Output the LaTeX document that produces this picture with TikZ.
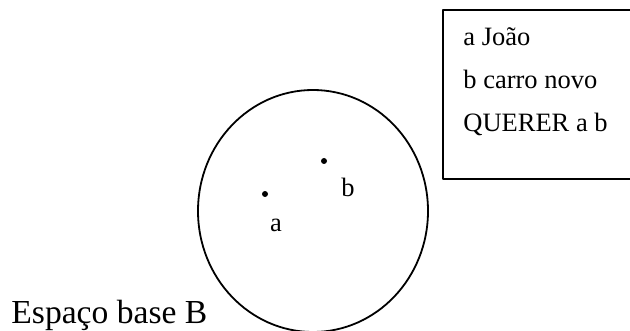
\documentclass[tikz,border=0pt]{standalone}
\usepackage{fontspec}
\setmainfont{Liberation Serif}
\usetikzlibrary{positioning}
\tikzset{
  ponto/.style={circle,fill,inner sep=0pt,minimum size=3pt},
  rotulo/.style={inner sep=0pt,anchor=base,font=\fontsize{13.25}{16}\selectfont},
  linha/.style={inner sep=0pt,anchor=base west,font=\fontsize{13.25}{16}\selectfont}
}
\begin{document}
\begin{tikzpicture}[x=0.5pt,y=-0.5pt,line join=round,line cap=round]
		\useasboundingbox (0,0) rectangle (630,331);
		% espaco base
		\draw[line width=0.9pt] (313,211) ellipse [x radius=57.5pt,y radius=60.5pt];
		\node[ponto] (pa) at (265,194) {};
		\node[ponto] (pb) at (324,161) {};
		\node[rotulo] (la) at (276,231) {a};
		\node[rotulo] (lb) at (348,197) {b};
		\node[inner sep=0pt,anchor=base west,font=\fontsize{16.8}{20}\selectfont] (nome) at (11,323) {Espaço base B};
		% quadro
		\draw[line width=0.9pt] (630,10) -- (443,10) -- (443,179) -- (630,179);
		\node[linha] (l1) at (463,46) {a João};
		\node[linha] (l2) at (463,89) {b carro novo};
		\node[linha] (l3) at (463,132) {QUERER a b};
\end{tikzpicture}
\end{document}
